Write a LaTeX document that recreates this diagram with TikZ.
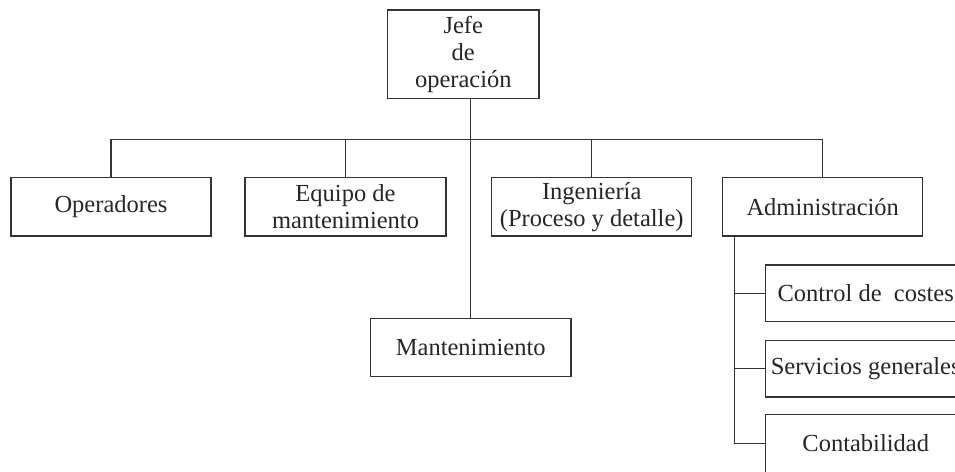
\documentclass[tikz,border=0pt]{standalone}
\usepackage{fontspec}
\setmainfont{Liberation Serif}

\tikzset{every picture/.style={line width=1.2pt}}
\tikzset{orgbox/.style={draw=black!80, minimum width=200, minimum height=58.7, inner sep=0pt, align=center, text=black!85, font=\fontsize{24.5}{27}\selectfont}}

\begin{document}
\begin{tikzpicture}[x=1pt,y=1pt,yscale=-1,xscale=1]
\useasboundingbox (0,0) rectangle (955,471);
\clip (0,0) rectangle (955,471);

%Shape: Rectangle [top]
\node [orgbox, minimum width=151.3, minimum height=88.7] (jefe) at (463.3,54.3) {Jefe\\de\\operación};

%Shape: Rectangle [first row]
\node [orgbox] (operadores) at (111,206.7) {Operadores};
\node [orgbox, minimum width=201] (equipo) at (345.5,206.7) {Equipo de\\mantenimiento};
\node [orgbox] (ingenieria) at (591.7,206.7) {Ingeniería\\(Proceso y detalle)};
\node [orgbox] (admin) at (822.7,206.7) {Administración};

%Shape: Rectangle [centre]
\node [orgbox, minimum width=200.7, minimum height=58.4] (mantenimiento) at (470.7,347.5) {Mantenimiento};

%Shape: Rectangle [under Administración]
\node [orgbox, minimum height=56.7] (costes) at (865.7,293.3) {Control de\ \ costes};
\node [orgbox, minimum height=56.7] (servicios) at (865.7,368.7) {Servicios generales};
\node [orgbox, minimum height=58] (contabilidad) at (865.7,443.3) {Contabilidad};

%Straight Lines [bus]
\coordinate (bus) at (471,139.3);
\coordinate (rama) at ([xshift=12.3]admin.south west);
\draw [black!80] (mantenimiento.north) -- (mantenimiento.north |- jefe.south) ;
\draw [black!80] (operadores.north) |- (bus) -| (admin.north) ;
\draw [black!80] (equipo.north) -- (equipo.north |- bus) ;
\draw [black!80] (ingenieria.north) -- (ingenieria.north |- bus) ;

%Straight Lines [branch]
\draw [black!80] (rama) |- (contabilidad.west) ;
\draw [black!80] (rama |- costes.west) -- (costes.west) ;
\draw [black!80] (rama |- servicios.west) -- (servicios.west) ;

\end{tikzpicture}
\end{document}
